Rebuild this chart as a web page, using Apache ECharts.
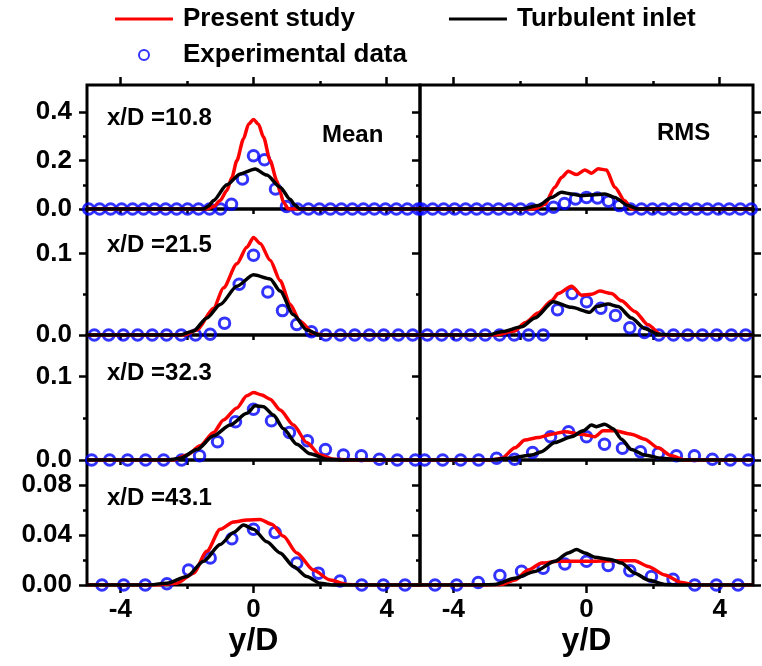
<!DOCTYPE html>
<html>
<head>
<meta charset="utf-8">
<script src="https://cdn.jsdelivr.net/npm/echarts@6/dist/echarts.min.js"></script>
<style>html,body{margin:0;background:#fff}#main{width:762px;height:666px}</style>
</head>
<body>
<div id="main"></div>
<script>
// experimental y/D positions, one list per station
const expX_108 = [-4.95,-4.62,-4.29,-3.96,-3.63,-3.3,-2.97,-2.64,-2.31,-1.98,-1.65,-1.32,-0.99,-0.66,-0.33,0,0.33,0.66,0.99,1.32,1.65,1.98,2.31,2.64,2.97,3.3,3.63,3.96,4.29,4.62,4.95]
const expX_215 = [-4.78,-4.35,-3.91,-3.48,-3.04,-2.61,-2.17,-1.74,-1.3,-0.87,-0.43,0,0.43,0.87,1.3,1.74,2.17,2.61,3.04,3.48,3.91,4.35,4.78]
const expX_323 = [-4.86,-4.32,-3.78,-3.24,-2.7,-2.16,-1.62,-1.08,-0.54,0,0.54,1.08,1.62,2.16,2.7,3.24,3.78,4.32,4.86]
const expX_431 = [-4.55,-3.9,-3.25,-2.6,-1.95,-1.3,-0.65,0,0.65,1.3,1.95,2.6,3.25,3.9,4.55]

const expMean_108 = [0,0,0,0,0,0,0,0,0,0,0,0,0,0.02,0.124,0.22,0.203,0.083,0.01,0,0,0,0,0,0,0,0,0,0,0,0]
const expRms_108 = [0,0,0,0,0,0,0,0,0,0,0,0,0.007,0.023,0.041,0.048,0.045,0.032,0.014,0,0,0,0,0,0,0,0,0,0,0,0]
const expMean_215 = [0,0,0,0,0,0,0,0,0.001,0.0146,0.0625,0.098,0.053,0.03,0.013,0.004,0,0,0,0,0,0,0]
const expRms_215 = [0,0,0,0,0,0,0,0,0,0.031,0.051,0.041,0.033,0.024,0.009,0.003,0,0,0,0,0,0,0]
const expMean_323 = [0,0,0,0,0,0,0.005,0.022,0.046,0.061,0.047,0.033,0.023,0.0125,0.006,0.005,0.001,0,0]
const expRms_323 = [0,0,0,0,0.002,0.001,0.009,0.028,0.034,0.028,0.019,0.014,0.01,0.008,0.005,0.005,0.001,0,0]
const expMean_431 = [0,0,0,0.001,0.012,0.0216,0.037,0.0446,0.042,0.0176,0.0095,0.0032,0,0,0]
const expRms_431 = [0,0,0.002,0.0076,0.011,0.0135,0.0168,0.019,0.0157,0.0114,0.0068,0.0046,0,0,0]

// simulation curves [y/D, value]
const presentMean_108 = [[-5,0],[-1.4,0],[-1.2,0.01],[-1.0,0.035],[-0.8,0.076],[-0.65,0.13],[-0.5,0.2],[-0.3,0.29],[-0.15,0.35],[0,0.37],[0.15,0.35],[0.3,0.297],[0.5,0.2],[0.7,0.117],[0.8,0.07],[0.9,0.028],[1.05,0],[5,0]]
const turbMean_108 = [[-5,0],[-1.5,0],[-1.35,0.012],[-1.2,0.035],[-0.8,0.1],[-0.4,0.145],[0.05,0.165],[0.4,0.14],[0.8,0.09],[1.1,0.04],[1.25,0.015],[1.4,0],[5,0]]
const presentRms_108 = [[-5,0],[-1.55,0],[-1.25,0.02],[-0.95,0.09],[-0.75,0.13],[-0.55,0.156],[-0.3,0.142],[-0.05,0.161],[0.15,0.148],[0.35,0.166],[0.6,0.161],[0.85,0.09],[1.15,0.034],[1.35,0],[5,0]]
const turbRms_108 = [[-5,0],[-1.95,0],[-1.45,0.014],[-1.05,0.048],[-0.75,0.069],[-0.45,0.062],[-0.15,0.055],[0.15,0.058],[0.55,0.062],[0.85,0.048],[1.25,0.014],[1.55,0],[5,0]]

const presentMean_215 = [[-5,0],[-2.1,0],[-1.7,0.006],[-1.2,0.033],[-0.9,0.058],[-0.5,0.0875],[-0.2,0.108],[0,0.12],[0.2,0.1125],[0.5,0.092],[0.8,0.067],[1.1,0.0375],[1.4,0.017],[1.8,0.002],[2.1,0],[5,0]]
const turbMean_215 = [[-5,0],[-2.2,0],[-1.8,0.005],[-1.4,0.021],[-1.0,0.0375],[-0.5,0.06],[0,0.074],[0.5,0.069],[0.8,0.054],[1.2,0.025],[1.6,0.006],[2.0,0],[5,0]]
const presentRms_215 = [[-5,0],[-2.75,0],[-2.15,0.005],[-1.85,0.015],[-1.45,0.027],[-1.05,0.042],[-0.85,0.051],[-0.45,0.06],[-0.15,0.049],[0.15,0.05],[0.4,0.054],[0.75,0.051],[1.05,0.042],[1.45,0.029],[1.85,0.0125],[2.25,0],[5,0]]
const turbRms_215 = [[-5,0],[-2.95,0],[-2.55,0.004],[-1.95,0.01],[-1.55,0.021],[-1.0,0.041],[-0.45,0.034],[0.1,0.028],[0.3,0.035],[0.65,0.038],[0.95,0.035],[1.35,0.021],[1.75,0.008],[2.15,0.001],[2.5,0],[5,0]]

const presentMean_323 = [[-5,0],[-2.4,0],[-2.0,0.006],[-1.6,0.017],[-1.2,0.033],[-0.9,0.048],[-0.5,0.0625],[-0.2,0.077],[0,0.081],[0.25,0.078],[0.5,0.073],[0.8,0.06],[1.2,0.042],[1.6,0.021],[2.0,0.006],[2.4,0.001],[2.8,0],[5,0]]
const turbMean_323 = [[-5,0],[-2.6,0],[-2.2,0.002],[-1.7,0.0125],[-1.2,0.029],[-0.7,0.042],[-0.2,0.056],[0.05,0.065],[0.3,0.064],[0.6,0.054],[0.9,0.0375],[1.3,0.019],[1.7,0.0075],[2.2,0.001],[2.6,0],[5,0]]
const presentRms_323 = [[-5,0],[-2.85,0],[-2.55,0.002],[-2.15,0.0146],[-1.85,0.024],[-1.45,0.027],[-1.05,0.031],[-0.65,0.034],[-0.15,0.031],[0.25,0.028],[0.5,0.035],[0.85,0.035],[1.35,0.031],[1.75,0.025],[2.15,0.0146],[2.55,0.005],[2.95,0],[5,0]]
const turbRms_323 = [[-5,0],[-2.95,0],[-2.35,0.002],[-1.65,0.006],[-1.35,0.01],[-0.95,0.021],[-0.45,0.028],[-0.1,0.035],[0.15,0.042],[0.3,0.04],[0.55,0.043],[0.8,0.0375],[1.05,0.025],[1.35,0.0125],[1.75,0.006],[2.25,0.002],[2.85,0],[5,0]]

const presentMean_431 = [[-5,0],[-2.9,0],[-2.3,0.0014],[-1.8,0.0095],[-1.4,0.027],[-1.0,0.0446],[-0.6,0.0505],[-0.2,0.052],[0.2,0.0524],[0.55,0.0486],[0.9,0.039],[1.3,0.0257],[1.8,0.012],[2.3,0.004],[2.8,0.0005],[3.2,0],[5,0]]
const turbMean_431 = [[-5,0],[-3.2,0],[-2.6,0.0014],[-2.0,0.0068],[-1.5,0.019],[-1.0,0.0324],[-0.6,0.042],[-0.3,0.048],[0,0.0446],[0.4,0.0346],[0.8,0.0257],[1.2,0.0149],[1.6,0.0068],[2.0,0.0014],[2.4,0],[5,0]]
const presentRms_431 = [[-5,0],[-3.25,0],[-2.55,0.0005],[-2.15,0.004],[-1.75,0.012],[-1.35,0.0176],[-0.85,0.019],[0,0.019],[0.85,0.0195],[1.45,0.0195],[1.85,0.0149],[2.35,0.0081],[2.85,0.002],[3.25,0],[5,0]]
const turbRms_431 = [[-5,0],[-3.35,0],[-2.75,0.0005],[-2.15,0.0054],[-1.55,0.0108],[-0.95,0.019],[-0.55,0.0257],[-0.3,0.0284],[-0.05,0.0257],[0.25,0.0222],[0.75,0.0203],[1.05,0.0176],[1.45,0.0095],[1.85,0.004],[2.35,0.0005],[2.75,0],[5,0]]

// tick values
const xMajor = [-4, 0, 4]
const xMinor = [-2, 2]
const stations = ['x/D =10.8', 'x/D =21.5', 'x/D =32.3', 'x/D =43.1']
const yMajor = [[0, 0.2, 0.4], [0, 0.1], [0, 0.1], [0, 0.04, 0.08]]
const yMinor = [[0.1, 0.3], [0.05], [0.05], [0.02, 0.06]]
const yMax = [0.512, 0.155, 0.15, 0.1]
const yDec = [1, 1, 1, 2]

const panels = [
    [[presentMean_108, turbMean_108, expX_108, expMean_108], [presentRms_108, turbRms_108, expX_108, expRms_108]],
    [[presentMean_215, turbMean_215, expX_215, expMean_215], [presentRms_215, turbRms_215, expX_215, expRms_215]],
    [[presentMean_323, turbMean_323, expX_323, expMean_323], [presentRms_323, turbRms_323, expX_323, expRms_323]],
    [[presentMean_431, turbMean_431, expX_431, expMean_431], [presentRms_431, turbRms_431, expX_431, expRms_431]]
]

const FONT = 'Liberation Sans'
const rowTop = [85, 209, 335, 460]
const rowH = [124, 126, 125, 125]
const colLeft = [87, 420]
const colW = 333

var grid = [], xAxis = [], yAxis = [], series = [], graphic = []

function tickAxis(kind, g, pos, values, len, extra) {
    const a = Object.assign({
        gridIndex: g, type: 'value', position: pos,
        axisLine: {show: false, onZero: false}, splitLine: {show: false},
        axisTick: {show: true, customValues: values, length: len, lineStyle: {color: '#000', width: 2.5}},
        axisLabel: {show: false}
    }, extra || {})
    if (kind == 'x') { a.min = -5; a.max = 5; xAxis.push(a); return xAxis.length - 1 }
    yAxis.push(a); return yAxis.length - 1
}

for (var r = 0; r < 4; r++) {
    for (var c = 0; c < 2; c++) {
        const g = grid.length
        grid.push({left: colLeft[c], top: rowTop[r], width: colW, height: rowH[r],
            show: true, borderColor: '#000', borderWidth: 3, backgroundColor: 'transparent'})
        const yLim = {min: 0, max: yMax[r]}
        // x axes
        var xi
        if (r == 3) {
            xi = tickAxis('x', g, 'bottom', xMajor, 8, {
                axisLabel: {show: true, customValues: xMajor, margin: 12, color: '#000',
                    fontSize: 26, fontWeight: 'bold', fontFamily: FONT},
                name: 'y/D', nameLocation: 'middle', nameGap: 40,
                nameTextStyle: {fontSize: 32, fontWeight: 'bold', fontFamily: FONT, color: '#000'}
            })
            tickAxis('x', g, 'bottom', xMinor, 4)
        } else {
            xi = tickAxis('x', g, 'bottom', xMajor.concat(xMinor), 5)
        }
        if (r == 0) {
            tickAxis('x', g, 'top', xMajor, 8)
            tickAxis('x', g, 'top', xMinor, 4)
        }
        // y axes
        const dec = yDec[r]
        const yi = tickAxis('y', g, 'left', yMajor[r], 8, Object.assign({}, yLim, c == 0 ? {
            axisLabel: {show: true, customValues: yMajor[r], margin: 15, color: '#000',
                fontSize: 26, fontWeight: 'bold', fontFamily: FONT,
                formatter: function (v) { return v.toFixed(dec) }}
        } : {}))
        tickAxis('y', g, 'left', yMinor[r], 4, yLim)
        if (c == 1) {
            tickAxis('y', g, 'right', yMajor[r], 8, yLim)
            tickAxis('y', g, 'right', yMinor[r], 4, yLim)
        }
        const p = panels[r][c]
        series.push({
            name: 'Experimental data', type: 'scatter', xAxisIndex: xi, yAxisIndex: yi,
            symbol: 'circle', symbolSize: 10.5,
            itemStyle: {color: 'rgba(255,255,255,0)', borderColor: '#0000ff', borderWidth: 3},
            data: p[2].map(function (x, i) { return [x, p[3][i]] }), z: 2
        })
        series.push({
            name: 'Present study', type: 'line', xAxisIndex: xi, yAxisIndex: yi,
            showSymbol: false, symbol: 'none', smooth: 0.25, smoothMonotone: 'x',
            itemStyle: {color: '#ff0000'}, lineStyle: {color: '#ff0000', width: 3.5},
            data: p[0], z: 3
        })
        series.push({
            name: 'Turbulent inlet', type: 'line', xAxisIndex: xi, yAxisIndex: yi,
            showSymbol: false, symbol: 'none', smooth: 0.25, smoothMonotone: 'x',
            itemStyle: {color: '#000'}, lineStyle: {color: '#000', width: 3.5},
            data: p[1], z: 4
        })
    }
    graphic.push({type: 'text', x: 107, y: [118, 245, 373, 498][r],
        style: {text: stations[r], fill: '#000', font: 'bold 24px "' + FONT + '"', verticalAlign: 'middle'}})
}
graphic.push({type: 'text', x: 322, y: 135,
    style: {text: 'Mean', fill: '#000', font: 'bold 24px "' + FONT + '"', verticalAlign: 'middle'}})
graphic.push({type: 'text', x: 657, y: 133,
    style: {text: 'RMS', fill: '#000', font: 'bold 24px "' + FONT + '"', verticalAlign: 'middle'}})

const legendText = {fontSize: 26, fontWeight: 'bold', fontFamily: FONT, color: '#000', padding: [0, 0, 0, 5]}
const chart = echarts.init(document.getElementById('main'), null, {renderer: 'canvas'})
chart.setOption({
    animation: false,
    backgroundColor: '#fff',
    legend: [
        {top: 1, left: 110, itemWidth: 58, itemHeight: 3, itemGap: 94, textStyle: legendText,
            data: [{name: 'Present study', icon: 'rect'}, {name: 'Turbulent inlet', icon: 'rect'}]},
        {top: 37, left: 133, itemWidth: 58, itemHeight: 10, textStyle: legendText,
            data: [{name: 'Experimental data', icon: 'circle'}]}
    ],
    grid: grid,
    xAxis: xAxis,
    yAxis: yAxis,
    series: series,
    graphic: graphic
})
</script>
</body>
</html>
